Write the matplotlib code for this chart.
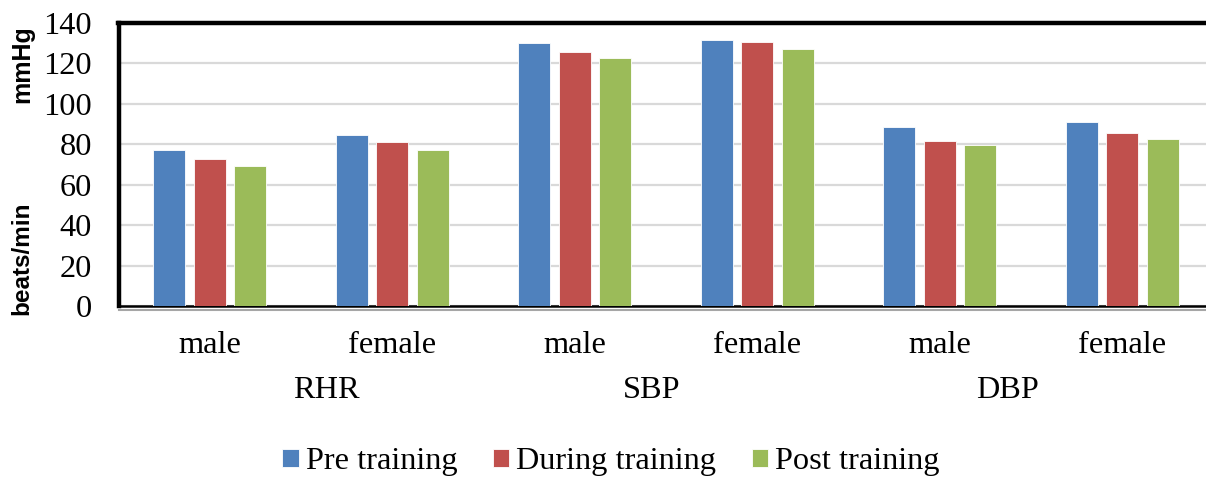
import matplotlib
matplotlib.use("Agg")
import matplotlib.pyplot as plt
import numpy as np

categories = ["male", "female", "male", "female", "male", "female"]
groups = ["RHR", "SBP", "DBP"]
group_label_x = [0.637, 2.42, 4.37]
series_names = ["Pre training", "During training", "Post training"]
pre = [77, 84.5, 130, 131.8, 88.5, 91.1]
during = [72.8, 81, 125.6, 130.4, 81.4, 85.8]
post = [69.4, 77, 122.8, 127.1, 79.4, 82.8]
colors = ["#4F81BD", "#C0504D", "#9BBB59"]
yticks = [0, 20, 40, 60, 80, 100, 120, 140]

serif = "Liberation Serif"
fs = 23.3

fig = plt.figure(figsize=(12.06, 4.79), dpi=100)
ax = fig.add_axes([118.5 / 1206, 173 / 479, 1095 / 1206, 283 / 479])

x = np.arange(len(categories))
step = 0.222
width = 0.175
for i, (vals, c, name) in enumerate(zip([pre, during, post], colors, series_names)):
    ax.bar(x + (i - 1) * step, vals, width=width, color=c, label=name,
           edgecolor="white", linewidth=0.6, zorder=3)

ax.set_xlim(-0.5, len(categories) - 0.5)
ax.set_ylim(0, 140)
ax.set_yticks(yticks)
ax.set_yticklabels([str(t) for t in yticks], fontfamily=serif, fontsize=fs)
ax.tick_params(axis="y", length=0, pad=19)
ax.set_xticks([])
ax.yaxis.grid(True, color="#D9D9D9", linewidth=1.6, zorder=0)
ax.set_axisbelow(True)

for s in ["top", "left"]:
    ax.spines[s].set_linewidth(3.2)
    ax.spines[s].set_color("black")
ax.spines["bottom"].set_linewidth(1.8)
ax.spines["right"].set_visible(False)

# gray shadow line under bottom axis
ax.plot([0, 1], [-0.013, -0.013], transform=ax.transAxes, color="#A6A6A6",
        linewidth=1.5, clip_on=False)

trans = ax.get_xaxis_transform()
for xi, lab in zip(x, categories):
    ax.text(xi, -0.138, lab, transform=trans, ha="center", va="center",
            fontfamily=serif, fontsize=fs)
for gx, g in zip(group_label_x, groups):
    ax.text(gx, -0.297, g, transform=trans, ha="center", va="center",
            fontfamily=serif, fontsize=fs)

fig.text(22 / 1206, 1 - 64 / 479, "mmHg", rotation=90, ha="center", va="center",
         fontfamily="Liberation Sans", fontweight="bold", fontsize=18)
fig.text(22 / 1206, 1 - 258 / 479, "beats/min", rotation=90, ha="center", va="center",
         fontfamily="Liberation Sans", fontweight="bold", fontsize=17.5)

leg = fig.legend(loc="center", bbox_to_anchor=(611 / 1206, 1 - 462 / 479), ncol=3,
                 frameon=False, prop={"family": serif, "size": fs},
                 handlelength=0.5, handleheight=0.5, handletextpad=0.22,
                 columnspacing=1.1, borderpad=0)

fig.savefig("out.png", dpi=100)
